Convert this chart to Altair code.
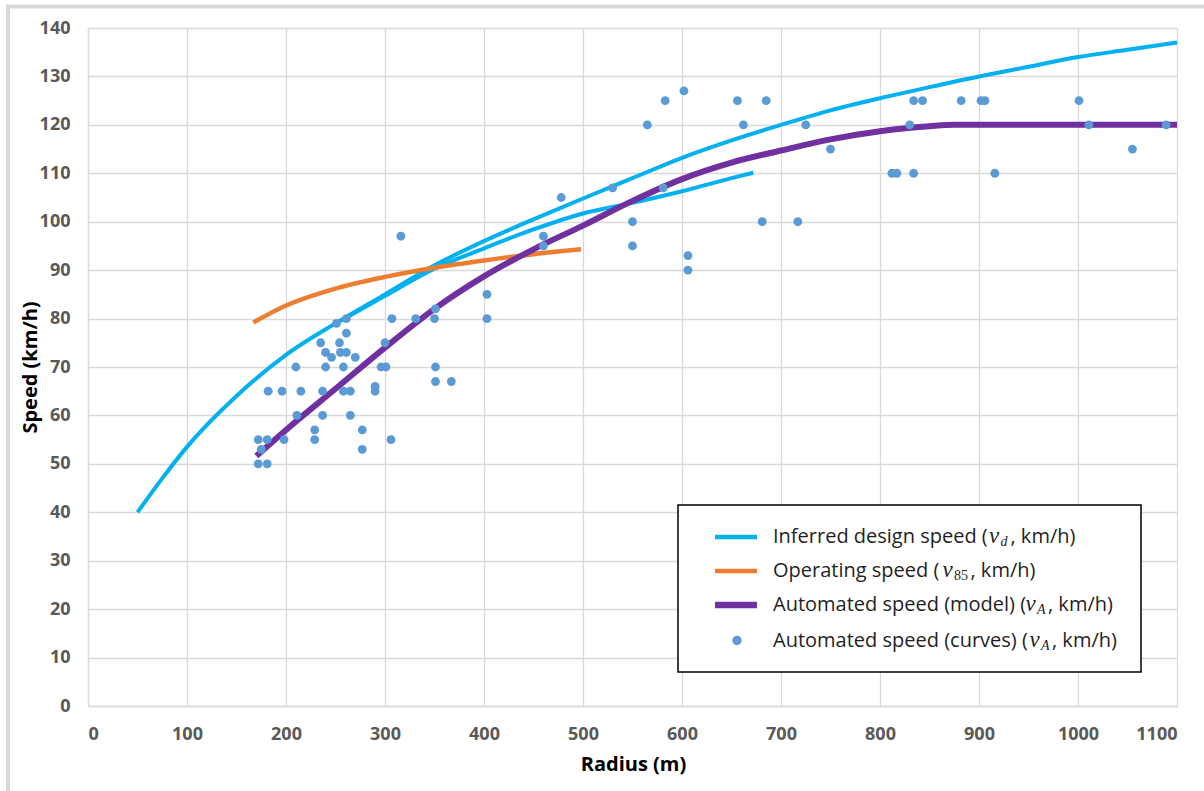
import altair as alt
import pandas as pd

# ---- data ----
# Automated speed (curves): scatter points
pt_radius = [307, 251, 261, 261, 235, 254, 300, 240, 246, 255, 261, 270, 210, 240, 258, 296, 301,
             182, 196, 215, 237, 258, 265, 290, 290, 211, 237, 265, 229, 277, 172, 181, 198, 229,
             306, 175, 277, 172, 181,
             316, 351, 331, 350, 403, 403, 351, 351, 367,
             602, 583, 656, 685, 565, 662, 725, 478, 530, 581, 550, 681, 717, 460, 460, 550, 606, 606,
             750, 830, 834, 843, 882, 902, 906, 1001, 1011, 1089, 1055, 812, 817, 834, 916]
pt_speed = [80, 79, 80, 77, 75, 75, 75, 73, 72, 73, 73, 72, 70, 70, 70, 70, 70,
            65, 65, 65, 65, 65, 65, 66, 65, 60, 60, 60, 57, 57, 55, 55, 55, 55,
            55, 53, 53, 50, 50,
            97, 82, 80, 80, 85, 80, 70, 67, 67,
            127, 125, 125, 125, 120, 120, 120, 105, 107, 107, 100, 100, 100, 97, 95, 95, 93, 90,
            115, 120, 125, 125, 125, 125, 125, 125, 120, 120, 115, 110, 110, 110, 110]

# Inferred design speed (main curve)
design_radius = [50, 75, 100, 150, 200, 250, 300, 350, 400, 450, 500, 550, 600, 650, 700, 750,
                 800, 850, 900, 950, 1000, 1050, 1100]
design_speed = [40, 47, 53.5, 64, 72.5, 79, 85, 91, 96, 100.5, 104.8, 109, 113.2, 116.8, 120, 123,
                125.5, 127.8, 130, 132, 134, 135.5, 137]
# Inferred design speed (second, shorter curve)
design2_radius = [255, 300, 350, 400, 450, 500, 550, 600, 650, 672]
design2_speed = [79.5, 84.7, 90.3, 94.5, 98.4, 101.7, 103.9, 106.3, 109.0, 110.1]

# Operating speed
op_radius = [167, 200, 250, 300, 350, 400, 450, 498]
op_speed = [79.2, 82.7, 86.2, 88.6, 90.5, 92.0, 93.3, 94.3]

# Automated speed (model)
model_radius = [170, 200, 250, 300, 350, 400, 450, 500, 550, 600, 650, 700, 750, 800, 850, 875, 1100]
model_speed = [51.6, 57, 65.5, 74, 82, 88.7, 94.3, 99.2, 104.3, 108.8, 112.2, 114.7, 117, 118.7,
               119.7, 120, 120]

x_ticks = list(range(0, 1101, 100))
y_ticks = list(range(0, 141, 10))

legend_labels = [
    ("Inferred design speed (", "d", ", km/h)"),
    ("Operating speed (", "85", ", km/h)"),
    ("Automated speed (model) (", "A", ", km/h)"),
    ("Automated speed (curves) (", "A", ", km/h)"),
]

# ---- styles ----
FONT = "Open Sans"
BLUE = "#00B0F0"
ORANGE = "#ED7D31"
PURPLE = "#7030A0"
DOT = "#5B9BD5"
GRID = "#d9d9d9"

x_scale = alt.Scale(domain=[0, 1100], nice=False, zero=False)
y_scale = alt.Scale(domain=[0, 140], nice=False)

x_axis = alt.Axis(
    title="Radius (m)", values=x_ticks, format="d", grid=True, gridColor=GRID, gridWidth=1.3,
    domainColor=GRID, domainWidth=1.3, ticks=False, tickSize=0,
    labelFont=FONT, labelFontSize=18, labelFontWeight="bold", labelColor="#595959",
    labelPadding=19, titleFont=FONT, titleFontSize=20, titleFontWeight="bold",
    titleColor="#000000", titleX=545, titleY=58, titleBaseline="middle", titleAlign="center",
)
y_axis = alt.Axis(
    title="Speed (km/h)", values=y_ticks, format="d", grid=True, gridColor=GRID, gridWidth=1.3,
    domainColor=GRID, domainWidth=1.3, ticks=False, tickSize=0,
    labelFont=FONT, labelFontSize=18, labelFontWeight="bold", labelColor="#595959",
    labelPadding=18, titleFont=FONT, titleFontSize=20, titleFontWeight="bold",
    titleColor="#000000", titleX=-58, titleY=339, titleAngle=270,
    titleBaseline="middle", titleAlign="center",
)


def line_layer(rs, vs, color, width, with_axes=False):
    df = pd.DataFrame({"r": rs, "v": vs})
    if with_axes:
        xe = alt.X("r:Q", scale=x_scale, axis=x_axis)
        ye = alt.Y("v:Q", scale=y_scale, axis=y_axis)
    else:
        xe = alt.X("r:Q", scale=x_scale)
        ye = alt.Y("v:Q", scale=y_scale)
    return alt.Chart(df).mark_line(
        color=color, strokeWidth=width, interpolate="monotone", strokeCap="butt"
    ).encode(x=xe, y=ye)


design_line = line_layer(design_radius, design_speed, BLUE, 4, with_axes=True)
design2_line = line_layer(design2_radius, design2_speed, BLUE, 4)
op_line = line_layer(op_radius, op_speed, ORANGE, 4.5)
model_line = line_layer(model_radius, model_speed, PURPLE, 6)

points = alt.Chart(pd.DataFrame({"r": pt_radius, "v": pt_speed})).mark_circle(
    size=78, color=DOT, opacity=1
).encode(x=alt.X("r:Q", scale=x_scale), y=alt.Y("v:Q", scale=y_scale))

one = pd.DataFrame({"a": [0]})

# outer chart border (light grey)
border = alt.Chart(one).mark_rect(fill=None, stroke=GRID, strokeWidth=4).encode(
    x=alt.value(-80), x2=alt.value(1130), y=alt.value(-21.5), y2=alt.value(780)
)

# ---- manual legend ----
legend_box = alt.Chart(one).mark_rect(fill="white", stroke="#000000", strokeWidth=1.5).encode(
    x=alt.value(590), x2=alt.value(1053), y=alt.value(477), y2=alt.value(644)
)
row_y = [509, 543, 577, 612.5]
sym_colors = [BLUE, ORANGE, PURPLE]
sym_widths = [4.5, 4.5, 6.5]
legend_layers = [legend_box]
for i in range(3):
    legend_layers.append(
        alt.Chart(one).mark_rule(color=sym_colors[i], strokeWidth=sym_widths[i], strokeCap="butt").encode(
            x=alt.value(627), x2=alt.value(669), y=alt.value(row_y[i]), y2=alt.value(row_y[i])
        )
    )
legend_layers.append(
    alt.Chart(one).mark_circle(size=90, color=DOT, opacity=1).encode(
        x=alt.value(649), y=alt.value(row_y[3])
    )
)

v_x = [901, 854.5, 937.5, 941.5]
sub_x = [912.5, 866, 949, 953]
rest_x = [922.5, 882.5, 960, 964]
TXT = "#1f1f1f"
for i, (a, sub, rest) in enumerate(legend_labels):
    legend_layers.append(
        alt.Chart(one).mark_text(text=a, font=FONT, fontSize=20, color=TXT, align="left",
                                 baseline="middle").encode(x=alt.value(685), y=alt.value(row_y[i]))
    )
    legend_layers.append(
        alt.Chart(one).mark_text(text="v", font="Liberation Serif", fontSize=23, fontStyle="italic",
                                 color=TXT, align="left", baseline="middle").encode(
            x=alt.value(v_x[i]), y=alt.value(row_y[i] - 1))
    )
    legend_layers.append(
        alt.Chart(one).mark_text(text=sub, font="Liberation Serif", fontSize=14,
                                 fontStyle="normal" if sub == "85" else "italic",
                                 color=TXT, align="left", baseline="middle").encode(
            x=alt.value(sub_x[i]), y=alt.value(row_y[i] + 5))
    )
    legend_layers.append(
        alt.Chart(one).mark_text(text=rest, font=FONT, fontSize=20, color=TXT, align="left",
                                 baseline="middle").encode(x=alt.value(rest_x[i]), y=alt.value(row_y[i]))
    )

chart = alt.layer(
    design_line, design2_line, op_line, model_line, points, border, *legend_layers
).properties(
    width=1089, height=678,
    autosize=alt.AutoSizeParams(type="none"),
    padding={"left": 88, "top": 28, "right": 27, "bottom": 85},
    background="white",
).configure_view(stroke=None)

chart.save("out.html", embed_options={"renderer": "svg", "actions": False})
